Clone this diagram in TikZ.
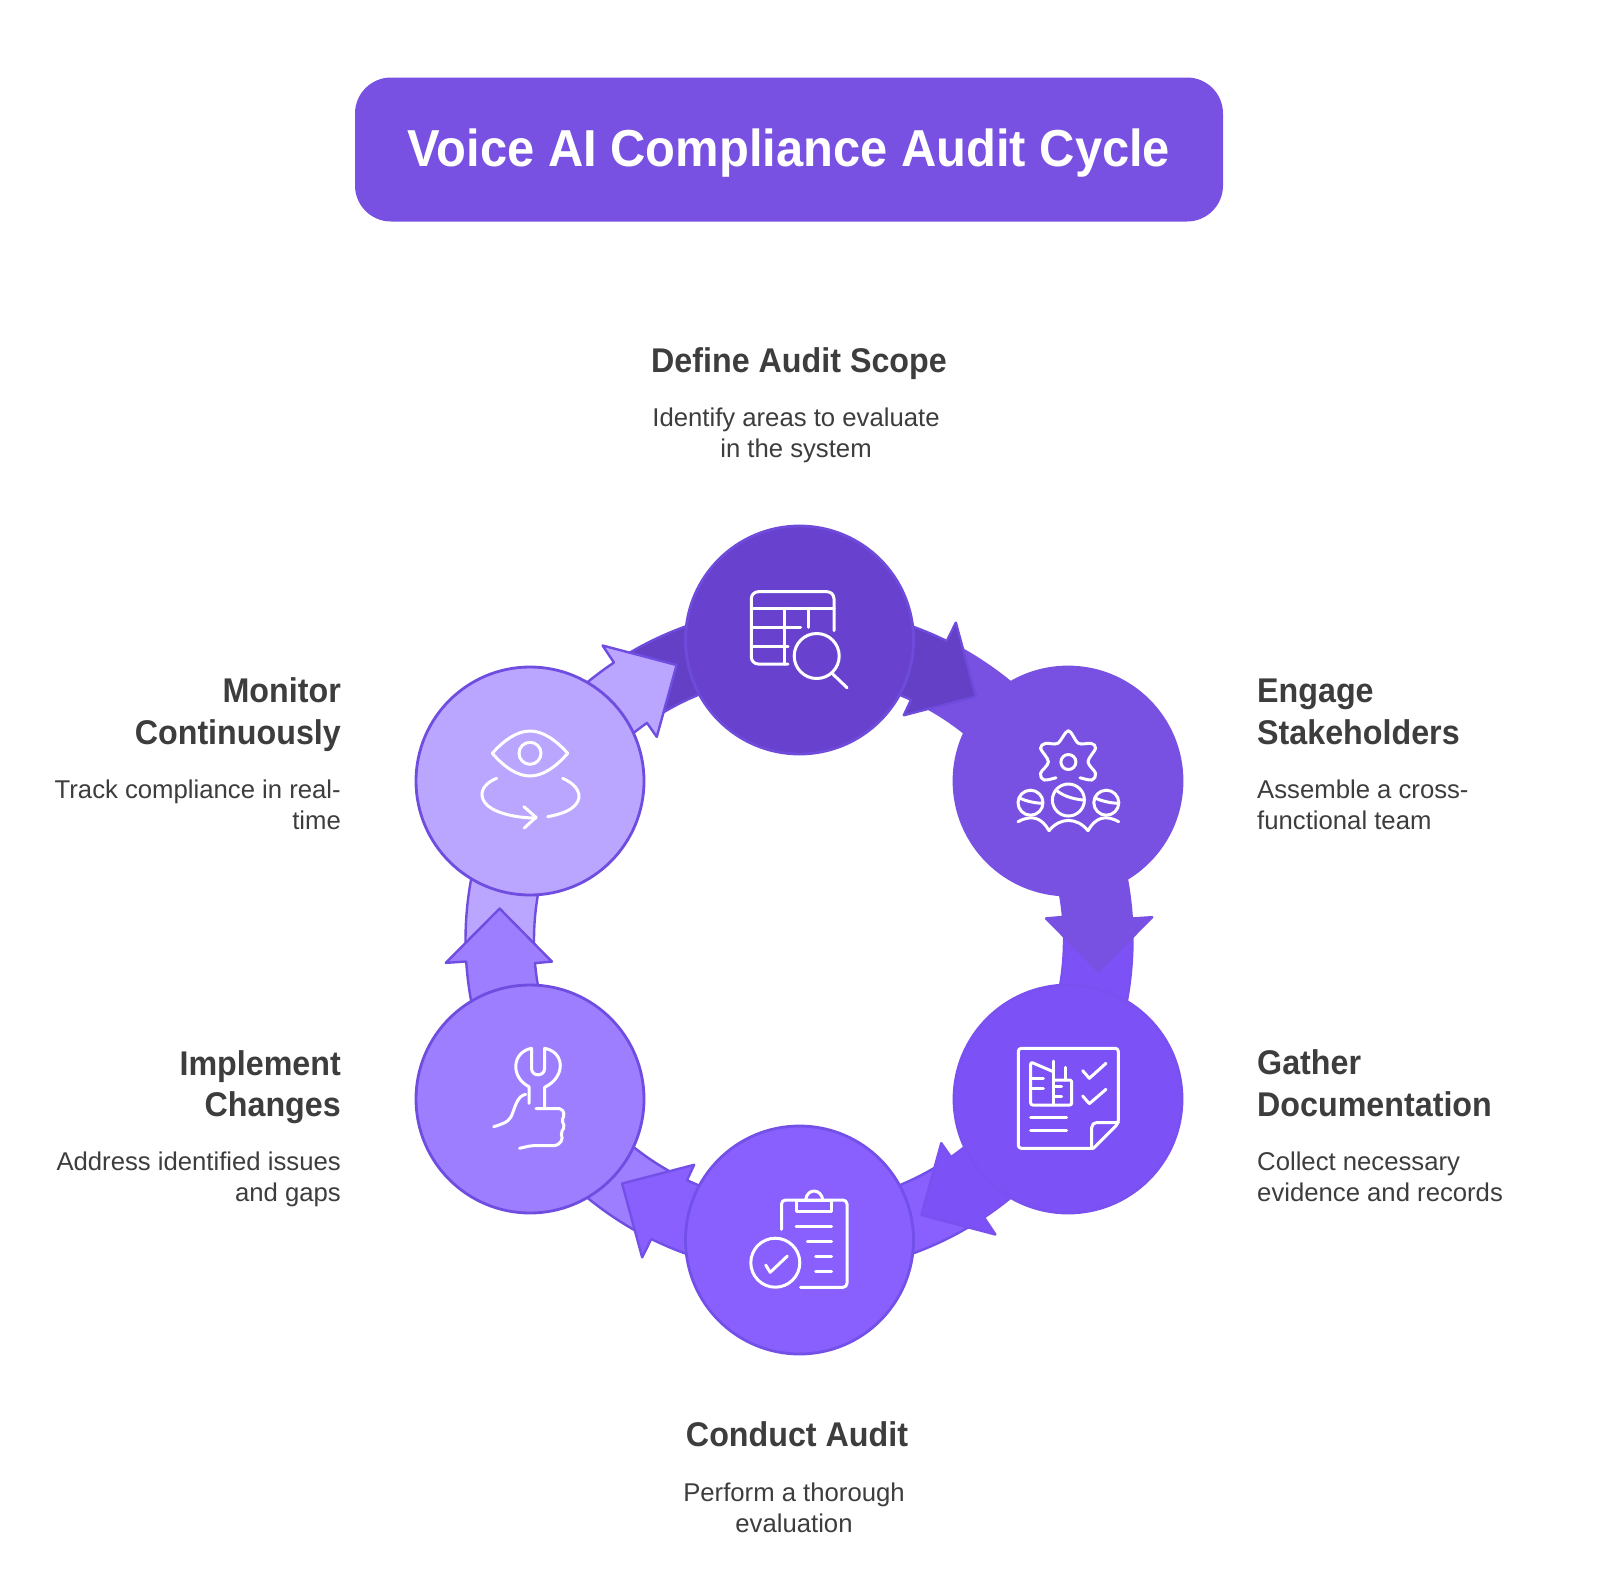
\documentclass[tikz,border=0pt]{standalone}
\usepackage{fontspec}
\setmainfont[BoldFeatures={FakeStretch=0.94}]{Liberation Sans}
\usetikzlibrary{arrows.meta,positioning}

\definecolor{scopefill}{HTML}{6842CE}
\definecolor{scopeband}{HTML}{6340C6}
\definecolor{engagefill}{HTML}{7851E3}
\definecolor{gatherfill}{HTML}{7C52F7}
\definecolor{conductfill}{HTML}{8960FD}
\definecolor{implementfill}{HTML}{9D7EFF}
\definecolor{monitorfill}{HTML}{BAA5FF}
\definecolor{scopeline}{HTML}{6F4BDC}
\definecolor{gatherline}{HTML}{7A50F0}
\definecolor{conductline}{HTML}{7350E8}
\definecolor{ringstroke}{HTML}{6F4DE0}
\definecolor{textdark}{HTML}{3D3D3D}

% tip angle, fill and line of the arrow, fill and line of the stretch behind its head
\newcommand{\ringarrow}[5]{
  \pgfmathsetmacro{\basea}{#1-9.7}
  \pgfmathsetmacro{\baseb}{#1-11}
  \pgfmathsetmacro{\taila}{#1-36}
  \pgfmathsetmacro{\nexta}{#1+24}
  \draw[band, draw=#5, fill=#4] ([shift={(\basea:333.5)}]ring) arc[start angle=\basea, end angle=\nexta, radius=333.5]
    -- ([shift={(\nexta:265)}]ring) arc[start angle=\nexta, end angle=\baseb, radius=265] -- cycle;
  \draw[band, draw=#3, fill=#2] ([shift={(\taila:333.5)}]ring) arc[start angle=\taila, end angle=\basea, radius=333.5]
    -- ([shift={(\basea:354)}]ring) -- ([shift={(#1:301)}]ring) -- ([shift={(\baseb:248)}]ring)
    -- ([shift={(\baseb:265)}]ring) arc[start angle=\baseb, end angle=\taila, radius=265] -- cycle;
}

\begin{document}
\begin{tikzpicture}[
    x=1pt, y=-1pt,
    band/.style={line width=2.4pt, line join=round},
    stage/.style={
      circle,
      line width=2.8pt,
      minimum size=228pt,
      inner sep=0pt
    },
    heading/.style={
      font=\fontsize{34.3}{41.5}\selectfont\bfseries,
      text=textdark,
      inner sep=0pt
    },
    note/.style={
      font=\fontsize{25.7}{31}\selectfont,
      text=textdark,
      inner sep=0pt
    },
    icon/.style={draw=white, line width=3pt, line cap=round, line join=round}
  ]
    \useasboundingbox (0,0) rectangle (1600,1577);
    \fill[white] (0,0) rectangle (1600,1577);

    \node[fill=engagefill, rounded corners=36pt, minimum width=868pt, minimum height=144pt] (titlebox) at (789,149.5) {};
    \node[font=\fontsize{52}{60}\selectfont\bfseries, text=white, inner sep=0pt] (title) at (789,153) {Voice AI Compliance Audit Cycle};

    \coordinate (ring) at (799,940);

    \ringarrow{-54}{scopeband}{scopeline}{engagefill}{engagefill}
    \ringarrow{6}{engagefill}{engagefill}{gatherfill}{gatherline}
    \ringarrow{66}{gatherfill}{gatherline}{conductfill}{conductline}
    \ringarrow{126}{conductfill}{conductline}{implementfill}{ringstroke}
    \ringarrow{186}{implementfill}{ringstroke}{monitorfill}{ringstroke}
    \ringarrow{246}{monitorfill}{ringstroke}{scopeband}{scopeline}

    \node[stage, fill=scopefill, draw=scopeline] (scope) at (799.5,640) {};
    \node[stage, fill=engagefill, draw=engagefill] (engage) at (1068,781) {};
    \node[stage, fill=gatherfill, draw=gatherline] (gather) at (1068,1099) {};
    \node[stage, fill=conductfill, draw=conductline] (conduct) at (799.5,1240) {};
    \node[stage, fill=implementfill, draw=ringstroke] (implement) at (530,1099) {};
    \node[stage, fill=monitorfill, draw=ringstroke] (monitor) at (530,781) {};

    % scope icon
    \draw[icon, rounded corners=7pt] (834,630.7) -- (834,591.7) -- (751.3,591.7) -- (751.3,664) -- (788,664);
    \draw[icon] (751.3,608.3) -- (834,608.3) (751.3,627.3) -- (800.5,627.3) (751.3,646) -- (788,646);
    \draw[icon] (784.7,608.3) -- (784.7,664) (808.8,608.3) -- (808.8,627.3);
    \draw[icon] (816.7,656) circle[radius=22.5];
    \draw[icon] (832,673.3) -- (847,687.7);

    % engage icon
    \draw[icon] (1068.4,762) circle[radius=7.5];
    \draw[icon] plot[smooth, tension=0.55] coordinates {(1056,777.7) (1044,780) (1040.5,773.3) (1048.4,761.7) (1040.5,748.3) (1045.7,743.3) (1057.7,743.3) (1068.4,730.7) (1078.4,743.3) (1091,743.3) (1095.6,748.3) (1088,761.7) (1095.6,773.3) (1092,780) (1080,777.7)};
    \draw[icon] (1068.4,800) circle[radius=16] (1030.5,802.7) circle[radius=12.5] (1106.3,802.7) circle[radius=12.5];
    \draw[icon] (1056,790) .. controls (1063,796) and (1073,799) .. (1083,800);
    \draw[icon] (1020,798.3) .. controls (1026,801) and (1034,803) .. (1041.5,803.3);
    \draw[icon] (1095.6,798.3) .. controls (1102,801) and (1110,803) .. (1118,803.3);
    \draw[icon] (1018,821.7) .. controls (1032,814) and (1042,818) .. (1049,830.7) .. controls (1060,817) and (1077,817) .. (1088,830.7) .. controls (1095,818) and (1105,814) .. (1118.7,821.7);

    % gather icon
    \draw[icon, rounded corners=3pt] (1093.3,1148.3) -- (1018.3,1148.3) -- (1018.3,1048.3) -- (1118.3,1048.3) -- (1118.3,1123.3) -- (1093.3,1148.3);
    \draw[icon, rounded corners=5pt] (1091.7,1146.7) -- (1091.7,1122.5) -- (1118.3,1122.5);
    \draw[icon] (1082.7,1070.7) -- (1089.3,1078.3) -- (1106,1063.3) (1082.7,1096) -- (1089.3,1103.7) -- (1106,1089.3);
    \draw[icon] (1030.7,1117.7) -- (1066.7,1117.7) (1030.7,1130.7) -- (1066.7,1130.7);
    \draw[icon, rounded corners=2pt] (1053.3,1071.7) -- (1030.7,1062) -- (1030.7,1105) -- (1071.7,1105) -- (1071.7,1080) -- (1053.3,1080);
    \draw[icon] (1053.3,1061) -- (1053.3,1105) (1065.7,1067.3) -- (1065.7,1080);
    \draw[icon] (1030.7,1078.3) -- (1043.3,1078.3) (1030.7,1088.3) -- (1043.3,1088.3) (1055,1086.7) -- (1061.7,1086.7) (1055,1096.7) -- (1061.7,1096.7);

    % conduct icon
    \draw[icon, rounded corners=4pt] (781.5,1229.3) -- (781.5,1200) -- (847,1200) -- (847,1287.3) -- (800.5,1287.3);
    \draw[icon] (796,1200) rectangle (831.5,1211.7);
    \draw[icon] (805.6,1200) .. controls (807,1188) and (821,1188) .. (822.9,1200);
    \draw[icon] (796,1226.7) -- (831.5,1226.7) (807.4,1241.7) -- (831.5,1241.7) (815.6,1256.7) -- (831.5,1256.7) (815.6,1271.7) -- (831.5,1271.7);
    \draw[icon] (775.3,1262.7) circle[radius=24.5];
    \draw[icon] (765.7,1265) -- (770.2,1272.3) -- (787.4,1256);

    % implement icon
    \draw[icon] (529,1103.3) -- (529,1086.7) .. controls (510,1077) and (512,1052) .. (531.5,1048.3) -- (531.5,1068.3) .. controls (531.5,1077) and (544.6,1077) .. (544.6,1068.3) -- (544.6,1048.3) .. controls (565,1052) and (566,1077) .. (544.6,1087.3) -- (544.6,1107.3);
    \draw[icon] (525.7,1094.3) .. controls (518,1096) and (516,1104) .. (513,1112) .. controls (510,1120) and (509,1122) .. (493.7,1126.7);
    \draw[icon, rounded corners=2pt] (536,1108.7) -- (561.8,1108.7) -- (564.6,1115) -- (561.8,1120) -- (564.6,1126.7) -- (561,1132.7) -- (562.5,1140) -- (556.7,1145.7) -- (530.9,1145.7) -- (519.5,1148.3);

    % monitor icon
    \draw[icon] (492.3,753.3) .. controls (505,739) and (518,731) .. (530,731) .. controls (542,731) and (555,739) .. (567.7,753.3) .. controls (555,768) and (542,776) .. (530,776) .. controls (518,776) and (505,768) .. (492.3,753.3) -- cycle;
    \draw[icon] (530,753.3) circle[radius=11];
    \draw[icon] (496.7,778.3) .. controls (480,785) and (478,797) .. (488,806) .. controls (498,814) and (518,818) .. (536,818);
    \draw[icon] (524,806.7) -- (536,817.3) -- (524.3,828);
    \draw[icon] (562.7,778.3) .. controls (582,787) and (583,800) .. (572,808) .. controls (565,813) and (556,815) .. (547.7,816.7);

    % labels
    \node[heading] (scopehead) at (799,364) {Define Audit Scope};
    \node[note, align=center] (scopenote) at (796,435.5) {Identify areas to evaluate\\in the system};

    \node[heading, align=left, anchor=west] (engagehead) at (1257,712) {Engage\\Stakeholders};
    \node[note, align=left, anchor=west] (engagenote) at (1257,804.5) {Assemble a cross-\\functional team};

    \node[heading, align=left, anchor=west] (gatherhead) at (1257,1083) {Gather\\Documentation};
    \node[note, align=left, anchor=west] (gathernote) at (1257,1176.5) {Collect necessary\\evidence and records};

    \node[heading] (conducthead) at (797,1434.5) {Conduct Audit};
    \node[note, align=center] (conductnote) at (794,1508) {Perform a thorough\\evaluation};

    \node[heading, align=right, anchor=east] (implementhead) at (341,1087) {Implement\\Changes};
    \node[note, align=right, anchor=east] (implementnote) at (341,1179.5) {Address identified issues\\and gaps};

    \node[heading, align=right, anchor=east] (monitorhead) at (341,714.5) {Monitor\\Continuously};
    \node[note, align=right, anchor=east] (monitornote) at (341,804.5) {Track compliance in real-\\time};
  \end{tikzpicture}
\end{document}
